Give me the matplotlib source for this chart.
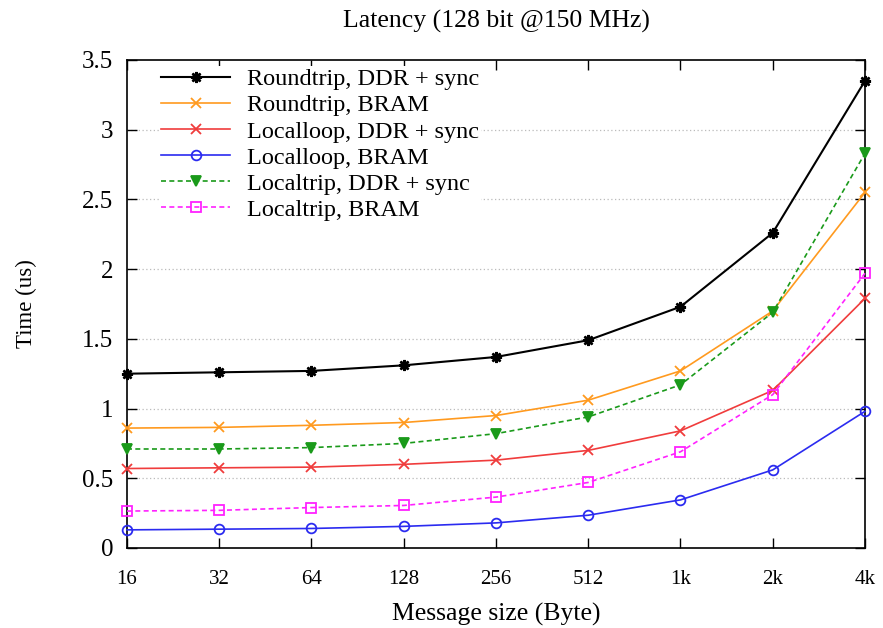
import matplotlib
matplotlib.use("Agg")
import matplotlib.pyplot as plt
import numpy as np

sizes = ["16", "32", "64", "128", "256", "512", "1k", "2k", "4k"]
roundtrip_ddr = [1.25, 1.26, 1.27, 1.31, 1.37, 1.49, 1.73, 2.26, 3.35]
roundtrip_bram = [0.86, 0.865, 0.88, 0.90, 0.95, 1.06, 1.27, 1.70, 2.55]
localloop_ddr = [0.57, 0.575, 0.58, 0.60, 0.63, 0.70, 0.84, 1.13, 1.79]
localloop_bram = [0.13, 0.135, 0.14, 0.155, 0.18, 0.235, 0.345, 0.56, 0.98]
localtrip_ddr = [0.71, 0.71, 0.72, 0.75, 0.82, 0.94, 1.17, 1.69, 2.83]
localtrip_bram = [0.265, 0.27, 0.29, 0.305, 0.365, 0.47, 0.69, 1.10, 1.97]

plt.rcParams['font.family'] = ['Liberation Serif', 'DejaVu Serif']
fig = plt.figure(figsize=(8.83, 6.28), dpi=100)
ax = fig.add_axes([0.1438, 0.1274, 0.9796 - 0.1438, 0.9045 - 0.1274])

x = np.arange(len(sizes))
series = [
    (roundtrip_ddr, "Roundtrip, DDR + sync", "black", "-", (8, 2, 0), True),
    (roundtrip_bram, "Roundtrip, BRAM", "#ff9a1f", "-", "x", True),
    (localloop_ddr, "Localloop, DDR + sync", "#f03c3c", "-", "x", True),
    (localloop_bram, "Localloop, BRAM", "#2b2bf0", "-", "o", False),
    (localtrip_ddr, "Localtrip, DDR + sync", "#1a9a1a", "--", "v", True),
    (localtrip_bram, "Localtrip, BRAM", "#ff22ff", "--", "s", False),
]
for vals, lab, col, ls, mk, filled in series:
    kw = dict(color=col, linestyle=ls, marker=mk, label=lab, lw=1.5 if col == "black" else 1.2,
              markersize=7, mew=1.3, clip_on=False, zorder=3)
    if not filled:
        kw['markerfacecolor'] = 'none'
    if col == "black":
        kw['markersize'] = 8
        kw['mew'] = 1.8
    if ls == "--":
        kw['dashes'] = (3, 2)
    ax.plot(x, vals, **kw)

ax.set_xlim(0, len(sizes) - 1)
ax.set_ylim(0, 3.5)
ax.set_xticks(x)
ax.set_xticklabels(sizes, fontsize=15)
yt = [0, 0.5, 1, 1.5, 2, 2.5, 3, 3.5]
ax.set_yticks(yt)
ax.set_yticklabels(["0", "0.5", "1", "1.5", "2", "2.5", "3", "3.5"], fontsize=18)
ax.tick_params(direction='in', top=True, right=True, length=7, width=1)
ax.tick_params(axis='x', pad=16)
ax.tick_params(axis='y', pad=10)
for yv in yt[1:-1]:
    ax.axhline(yv, color='#bbbbbb', lw=0.9, ls=(0, (1, 2)), zorder=1)
for s in ax.spines.values():
    s.set_linewidth(1.2)

ax.set_xlabel("Message size (Byte)", fontsize=18.5, labelpad=10)
ax.set_ylabel("Time (us)", fontsize=16.5, labelpad=32)
ax.set_title("Latency (128 bit @150 MHz)", fontsize=18.5, pad=23)

leg = ax.legend(loc='upper left', bbox_to_anchor=(0.027, 1.013), fontsize=17.5, frameon=True,
                handlelength=2.8, handletextpad=0.7, labelspacing=0.17, borderpad=0.1)
leg.get_frame().set_facecolor('white')
leg.get_frame().set_edgecolor('none')
leg.get_frame().set_alpha(1)
leg.set_zorder(5)

fig.savefig("out.png", dpi=100)
